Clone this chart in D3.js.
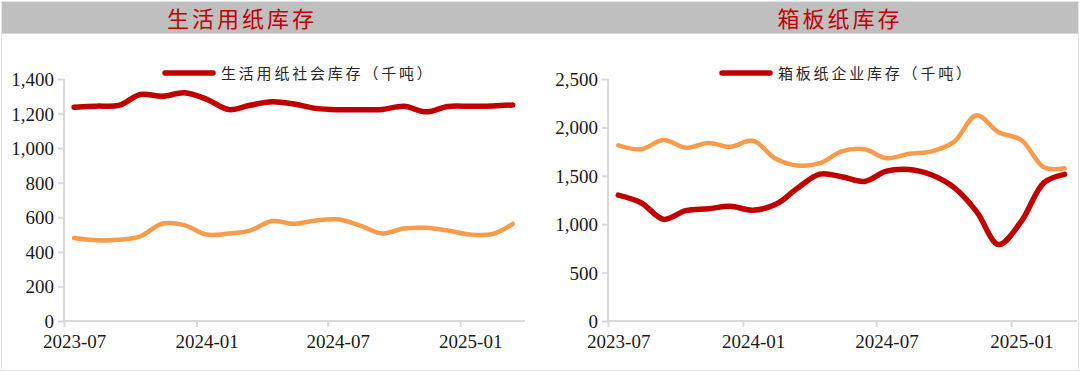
<!DOCTYPE html>
<html>
<head>
<meta charset="utf-8">
<script src="https://cdn.jsdelivr.net/npm/d3@7"></script>
<style>
body{margin:0;background:#fff;}
svg{display:block;}
</style>
</head>
<body>
<svg width="1080" height="372"></svg>
<script>
/* data (thousand tonnes) */
const months=["2023-07","2023-08","2023-09","2023-10","2023-11","2023-12",
    "2024-01","2024-02","2024-03","2024-04","2024-05","2024-06",
    "2024-07","2024-08","2024-09","2024-10","2024-11","2024-12",
    "2025-01","2025-02","2025-03"];

const tissueSocial=[1237,1243,1247,1310,1300,1320,1283,1223,1248,1268,1255,1230,
    1222,1222,1224,1242,1210,1241,1242,1244,1250];
const tissueOther=[480,467,470,490,564,555,500,506,523,578,562,582,
    588,552,506,535,539,523,500,503,562];

const boardEnterprise=[1300,1222,1050,1140,1160,1185,1145,1205,1368,1518,1490,1442,
    1548,1565,1508,1380,1130,790,1030,1430,1515];
const boardOther=[1815,1775,1870,1790,1840,1800,1862,1675,1606,1630,1753,1774,
    1682,1728,1753,1850,2125,1950,1870,1588,1578];

const xTickLabels=["2023-07","2024-01","2024-07","2025-01"];
const tissueYTicks=[0,200,400,600,800,1000,1200,1400];
const boardYTicks=[0,500,1000,1500,2000,2500];

const parseMonth=d3.timeParse('%Y-%m');
const midMonth=m=>d3.timeDay.offset(parseMonth(m),14);

const svg=d3.select('svg');
const serif='"Liberation Serif","Times New Roman",serif';
const cjk='"Noto Sans CJK SC","Noto Sans CJK JP",sans-serif';
const red='#c00000';
const orange='#f89b4b';
const axisGrey='#d9d9d9';

// frame and title bar
svg.append('rect')
    .attr('x',1.5).attr('y',1.5)
    .attr('width',1077).attr('height',369)
    .attr('fill','none')
    .attr('stroke','#e6e6e6');

svg.append('rect')
    .attr('x',2).attr('y',2)
    .attr('width',1076).attr('height',31)
    .attr('fill','#bfbfbf');
svg.append('line')
    .attr('x1',2).attr('x2',1078)
    .attr('y1',33.5).attr('y2',33.5)
    .attr('stroke','#d6d6d6');

const yTop=79, yBottom=321;

function drawPanel(p){
    const x=d3.scaleTime()
        .domain([parseMonth('2023-07'),parseMonth('2025-04')])
        .range([p.x0,p.x1]);
    const y=d3.scaleLinear()
        .domain([0,p.yMax])
        .range([yBottom,yTop]);

    const g=svg.append('g');

    // title
    g.append('text')
        .attr('x',p.titleX).attr('y',27)
        .attr('text-anchor','middle')
        .style('font-family',cjk)
        .style('font-size','22px')
        .style('letter-spacing','3px')
        .attr('fill',red)
        .text(p.title);

    // y axis
    const yAxis=g.append('g')
        .attr('transform',`translate(${p.x0},0)`)
        .call(d3.axisLeft(y)
            .tickValues(p.yTicks)
            .tickSize(6)
            .tickPadding(4)
            .tickFormat(d3.format(',')));
    yAxis.select('.domain')
        .attr('d',`M0,${yBottom}V${yTop}`)
        .attr('stroke',axisGrey).attr('stroke-width',2);
    yAxis.selectAll('.tick line').attr('stroke',axisGrey).attr('stroke-width',2);
    yAxis.selectAll('.tick text')
        .attr('fill','#1a1a1a')
        .attr('dy','0.34em')
        .style('font-family',serif)
        .style('font-size','19px');

    // x axis
    const xAxis=g.append('g')
        .attr('transform',`translate(0,${yBottom})`)
        .call(d3.axisBottom(x)
            .tickValues(xTickLabels.map(parseMonth))
            .tickSize(6)
            .tickPadding(8)
            .tickFormat(d3.timeFormat('%Y-%m')));
    xAxis.select('.domain')
        .attr('d',`M${p.x0},0H${p.x1}`)
        .attr('stroke',axisGrey).attr('stroke-width',2);
    xAxis.selectAll('.tick line').attr('stroke',axisGrey).attr('stroke-width',2);
    const half=x(midMonth('2023-07'))-x(parseMonth('2023-07'));
    xAxis.selectAll('.tick text')
        .attr('x',half)
        .attr('fill','#1a1a1a')
        .style('font-family',serif)
        .style('font-size','19px');

    const line=d3.line()
        .x((d,i)=>x(midMonth(months[i])))
        .y(d=>y(d))
        .curve(d3.curveCatmullRom.alpha(0.5));

    g.append('path')
        .datum(p.other)
        .attr('d',line)
        .attr('fill','none')
        .attr('stroke',orange)
        .attr('stroke-width',4.5)
        .attr('stroke-linecap','round');

    g.append('path')
        .datum(p.main)
        .attr('d',line)
        .attr('fill','none')
        .attr('stroke',red)
        .attr('stroke-width',5.5)
        .attr('stroke-linecap','round');

    // legend
    g.append('line')
        .attr('x1',p.legendX).attr('x2',p.legendX+48)
        .attr('y1',73).attr('y2',73)
        .attr('stroke',red)
        .attr('stroke-width',5.5)
        .attr('stroke-linecap','round');
    g.append('text')
        .attr('x',p.legendX+56).attr('y',79)
        .style('font-family',cjk)
        .style('font-size','15px')
        .style('letter-spacing','2.8px')
        .attr('fill','#262626')
        .text(p.legend);
}

drawPanel({
    title:'生活用纸库存', titleX:242,
    x0:64, x1:525, yMax:1400, yTicks:tissueYTicks,
    main:tissueSocial, other:tissueOther,
    legend:'生活用纸社会库存（千吨）', legendX:165
});

drawPanel({
    title:'箱板纸库存', titleX:840,
    x0:608, x1:1077, yMax:2500, yTicks:boardYTicks,
    main:boardEnterprise, other:boardOther,
    legend:'箱板纸企业库存（千吨）', legendX:722
});
</script>
</body>
</html>
